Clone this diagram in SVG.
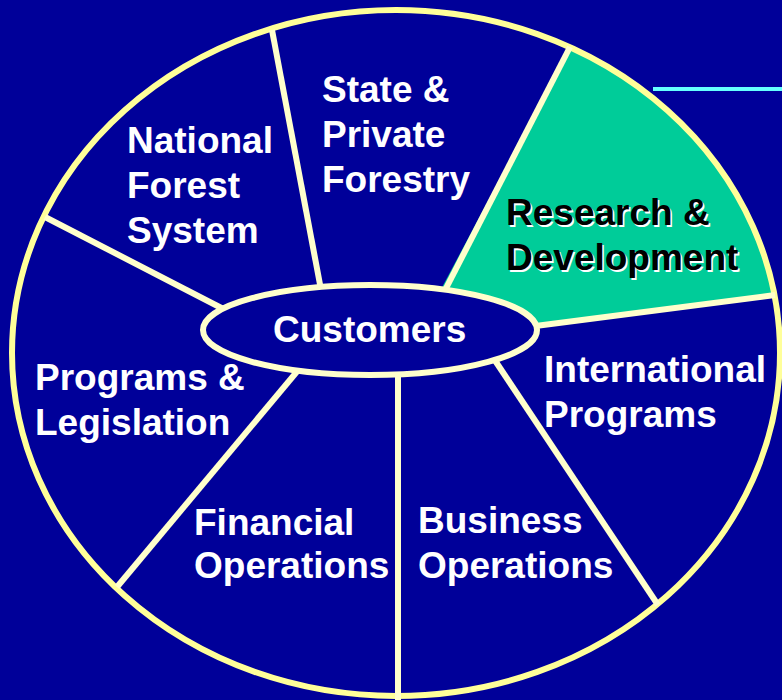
<svg xmlns="http://www.w3.org/2000/svg" width="782" height="700" viewBox="0 0 782 700">
  <style>
    .lbl { font-family: "Liberation Sans", Arial, sans-serif; font-weight: bold; font-size: 37px; fill: #FFFFFF; }
    .dark { fill: #000000; }
    .shadow { fill: #FFFFFF; }
    .rim { fill: none; stroke: #FFFF99; stroke-width: 6; }
    .spoke { stroke: #FFFFCC; stroke-width: 6; fill: none; }
    .hub { fill: #000099; stroke: #FFFFCC; stroke-width: 6; }
  </style>
  <rect width="782" height="700" fill="#000099"/>

  <!-- accent rule at top right -->
  <line x1="653" y1="89" x2="782" y2="89" stroke="#66FFFF" stroke-width="4"/>

  <!-- highlighted sector -->
  <path id="rd-fill" d="M 430,310 L 570,47 A 384 343 0 0 1 775,295 L 520,330 Z" fill="#00CC99"/>

  <!-- outer wheel -->
  <ellipse class="rim" cx="396" cy="353" rx="384" ry="343"/>

  <g id="connectors">
    <line class="spoke" x1="45" y1="217" x2="235" y2="315"/>
    <line class="spoke" x1="272" y1="30" x2="322" y2="295"/>
    <line class="spoke" x1="570" y1="47" x2="440" y2="300"/>
    <line class="spoke" x1="775" y1="295" x2="520" y2="328"/>
    <line class="spoke" x1="480" y1="338" x2="658" y2="605"/>
    <line class="spoke" x1="398" y1="350" x2="398" y2="700"/>
    <line class="spoke" x1="310" y1="356" x2="117" y2="587"/>
  </g>

  <g id="customers">
    <ellipse class="hub" cx="370" cy="330" rx="167" ry="45"/>
    <text class="lbl" x="273" y="342">Customers</text>
  </g>

  <g id="national-forest-system">
    <text class="lbl" x="127" y="153">National</text>
    <text class="lbl" x="127" y="198">Forest</text>
    <text class="lbl" x="127" y="243">System</text>
  </g>

  <g id="state-private-forestry">
    <text class="lbl" x="322" y="102">State &amp;</text>
    <text class="lbl" x="322" y="147">Private</text>
    <text class="lbl" x="322" y="192">Forestry</text>
  </g>

  <g id="research-development">
    <text class="lbl shadow" x="507.5" y="226.5">Research &amp;</text>
    <text class="lbl shadow" x="507.5" y="271.5">Development</text>
    <text class="lbl dark" x="506" y="225">Research &amp;</text>
    <text class="lbl dark" x="506" y="270">Development</text>
  </g>

  <g id="international-programs">
    <text class="lbl" x="544" y="382">International</text>
    <text class="lbl" x="544" y="427">Programs</text>
  </g>

  <g id="programs-legislation">
    <text class="lbl" x="35" y="390">Programs &amp;</text>
    <text class="lbl" x="35" y="435">Legislation</text>
  </g>

  <g id="financial-operations">
    <text class="lbl" x="194" y="535">Financial</text>
    <text class="lbl" x="194" y="578">Operations</text>
  </g>

  <g id="business-operations">
    <text class="lbl" x="418" y="533">Business</text>
    <text class="lbl" x="418" y="578">Operations</text>
  </g>
</svg>
